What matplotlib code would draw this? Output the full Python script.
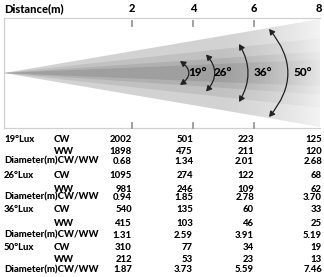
import numpy as np
import matplotlib
matplotlib.use("Agg")
import matplotlib.pyplot as plt
from matplotlib.patches import Polygon, FancyArrowPatch

# chart data
distances = [2, 4, 6, 8]
beam_angles = [19, 26, 36, 50]
lux_cw = [[2002, 501, 223, 125],
          [1095, 274, 122, 68],
          [540, 135, 60, 33],
          [310, 77, 34, 19]]
lux_ww = [[1898, 475, 211, 120],
          [981, 246, 109, 62],
          [415, 103, 46, 25],
          [212, 53, 23, 13]]
diameters = [[0.68, 1.34, 2.01, 2.68],
             [0.94, 1.85, 2.78, 3.70],
             [1.31, 2.59, 3.91, 5.19],
             [1.87, 3.73, 5.59, 7.46]]

plt.rcParams['font.family'] = ['Lato', 'DejaVu Sans']
WT = 'black'

W, H = 324, 277
fig = plt.figure(figsize=(W / 100, H / 100), dpi=100)
ax = fig.add_axes([0, 0, 1, 1])
ax.set_xlim(0, W)
ax.set_ylim(H, 0)
ax.axis('off')

# layout (pixels)
apex = (4, 73)
cone_end = 320
box_top, box_bot = 18, 128
col_right = [132, 193, 254, 322]
slopes = [0.042, 0.068, 0.110, 0.170]      # half-height per px, per beam
band_colors = ['#9f9f9f', '#b0b0b0', '#c1c1c1', '#d2d2d2']
frame_col = '#d0d0d0'

def x_of(d):
    return 71 + 30.5 * d

# frame
ax.plot([4, 4], [box_top, box_bot], color=frame_col, lw=0.9)
ax.plot([4, cone_end], [box_top, box_top], color=frame_col, lw=0.9)
ax.plot([4, cone_end], [box_bot, box_bot], color=frame_col, lw=0.9)

# cones, widest first
outer = None
for s, c in zip(slopes[::-1], band_colors[::-1]):
    h = s * (cone_end - apex[0])
    pts = [apex, (cone_end, apex[1] - h), (cone_end, apex[1] + h)]
    p = Polygon(pts, closed=True, fc=c, ec='none', zorder=2)
    ax.add_patch(p)
    if outer is None:
        outer = p

# fade to white on the right
ramp = np.linspace(0, 1, 200) ** 1.5 * 0.75
img = np.ones((1, 200, 4))
img[0, :, 3] = ramp
im = ax.imshow(img, extent=[215, cone_end, box_bot, box_top], aspect='auto',
               zorder=3, interpolation='bilinear')
im.set_clip_path(outer)
ax.set_xlim(0, W)
ax.set_ylim(H, 0)

# header and ticks
hfs = 8
ax.text(4, 9, 'Distance(m)', fontsize=hfs, fontweight=WT, va='center', ha='left')
for i, d in enumerate(distances):
    x = col_right[i] - 3 if i == len(distances) - 1 else x_of(d)
    ax.text(x, 9, str(d), fontsize=hfs, fontweight=WT, va='center', ha='center')
    if i < len(distances) - 1:
        ax.plot([x, x], [21, 26], color='#999999', lw=1.3, zorder=4)
        ax.plot([x, x], [123, 128], color='#999999', lw=1.3, zorder=4)

# beam angle arrows
arrow_x = [180, 206, 239, 269]
arrow_half = [12, 18.5, 29, 44]
bulge = [-0.7, -0.45, -0.3, -0.42]
label_x = [197, 223, 263, 303]
for a, x, hh, r, lx in zip(beam_angles, arrow_x, arrow_half, bulge, label_x):
    arr = FancyArrowPatch((x, apex[1] - hh), (x, apex[1] + hh),
                          connectionstyle='arc3,rad=%s' % r,
                          arrowstyle='<|-|>,head_length=3.2,head_width=1.8',
                          shrinkA=0, shrinkB=0,
                          color='#222222', lw=0.9, zorder=5)
    ax.add_patch(arr)
    ax.text(lx, apex[1], '%d°' % a, fontsize=8.5, fontweight=WT,
            va='center', ha='center', zorder=5)

# table
row_y = [[140, 152, 161], [175, 189, 197], [210, 223, 235], [247, 259, 270]]
fs = 6.8
for k, a in enumerate(beam_angles):
    y_cw, y_ww, y_d = row_y[k]
    ax.text(4, y_cw, '%d°Lux' % a, fontsize=fs, fontweight=WT, va='center')
    ax.text(54, y_cw, 'CW', fontsize=fs, fontweight=WT, va='center')
    ax.text(54, y_ww, 'WW', fontsize=fs, fontweight=WT, va='center')
    ax.text(4, y_d, 'Diameter(m)CW/WW', fontsize=fs, fontweight=WT, va='center')
    for i in range(len(distances)):
        xr = col_right[i]
        ax.text(xr, y_cw, str(lux_cw[k][i]), fontsize=fs, fontweight=WT, va='center', ha='right')
        ax.text(xr, y_ww, str(lux_ww[k][i]), fontsize=fs, fontweight=WT, va='center', ha='right')
        ax.text(xr, y_d, '%.2f' % diameters[k][i], fontsize=fs, fontweight=WT, va='center', ha='right')

fig.savefig('out.png', dpi=100)
